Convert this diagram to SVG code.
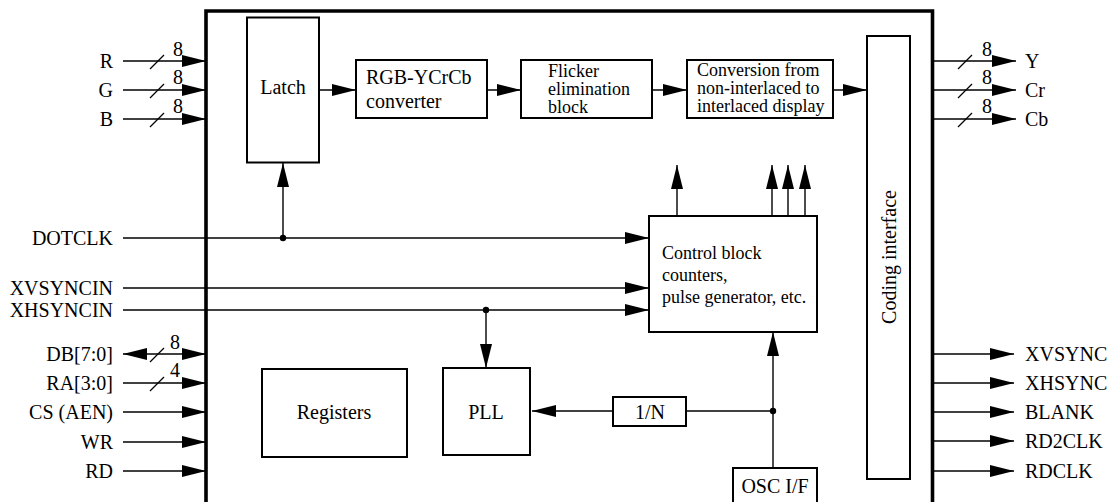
<svg xmlns="http://www.w3.org/2000/svg" width="1120" height="502" viewBox="0 0 1120 502" font-family="'Liberation Serif', 'DejaVu Serif', serif">
<style>
text{font-family:'Liberation Serif','DejaVu Serif',serif;fill:#000}
.t20{font-size:20px}
.t18{font-size:18px}
.r{text-anchor:end}
.m{text-anchor:middle}
.box{fill:#fff;stroke:#000;stroke-width:2}
.w{fill:none;stroke:#000;stroke-width:1.4}
.a{marker-end:url(#ah)}
.s{fill:none;stroke:#000;stroke-width:1.2}
</style>
<defs>
<marker id="ah" markerUnits="userSpaceOnUse" markerWidth="24" markerHeight="12" refX="24" refY="6" orient="auto" overflow="visible">
<path d="M0,0 L24,6 L0,12 z" fill="#000"/>
</marker>
<marker id="ahs" markerUnits="userSpaceOnUse" markerWidth="24" markerHeight="12" refX="24" refY="6" orient="auto-start-reverse" overflow="visible">
<path d="M0,0 L24,6 L0,12 z" fill="#000"/>
</marker>
</defs>
<rect width="1120" height="502" fill="#fff"/>
<g id="chip">
<path d="M206,506 V11 H932.5 V506" fill="none" stroke="#000" stroke-width="3.6"/>
</g>
<g id="connectors">
<line class="w a" x1="123" y1="61" x2="206" y2="61"/>
<line class="w a" x1="123" y1="90" x2="206" y2="90"/>
<line class="w a" x1="123" y1="119" x2="206" y2="119"/>
<line class="s" x1="150" y1="69" x2="164" y2="55"/>
<line class="s" x1="150" y1="98" x2="164" y2="84"/>
<line class="s" x1="150" y1="127" x2="164" y2="113"/>
<text class="t20" x="173" y="56">8</text>
<text class="t20" x="173" y="84">8</text>
<text class="t20" x="173" y="113">8</text>
<line class="w a" x1="320" y1="90" x2="356" y2="90"/>
<line class="w a" x1="488" y1="90" x2="521" y2="90"/>
<line class="w a" x1="653" y1="90" x2="687" y2="90"/>
<line class="w a" x1="834" y1="90" x2="867" y2="90"/>
<line class="w a" x1="932" y1="61" x2="1016" y2="61"/>
<line class="w a" x1="932" y1="90" x2="1016" y2="90"/>
<line class="w a" x1="932" y1="119" x2="1016" y2="119"/>
<line class="s" x1="958" y1="69" x2="972" y2="55"/>
<line class="s" x1="958" y1="98" x2="972" y2="84"/>
<line class="s" x1="958" y1="127" x2="972" y2="113"/>
<text class="t20" x="982" y="56">8</text>
<text class="t20" x="982" y="84">8</text>
<text class="t20" x="982" y="113">8</text>
<line class="w a" x1="123" y1="238" x2="649" y2="238"/>
<line class="w a" x1="283" y1="238" x2="283" y2="163"/>
<circle cx="283" cy="238" r="3.2" fill="#000"/>
<line class="w a" x1="123" y1="288" x2="649" y2="288"/>
<line class="w a" x1="123" y1="310" x2="649" y2="310"/>
<line class="w a" x1="486" y1="310" x2="486" y2="368"/>
<circle cx="486" cy="310" r="3.2" fill="#000"/>
<line class="w a" x1="677" y1="216" x2="677" y2="165"/>
<line class="w a" x1="772" y1="216" x2="772" y2="165"/>
<line class="w a" x1="788" y1="216" x2="788" y2="165"/>
<line class="w a" x1="805" y1="216" x2="805" y2="165"/>
<line class="w a" x1="773" y1="468" x2="773" y2="332"/>
<line class="w" x1="773" y1="411" x2="686" y2="411"/>
<circle cx="773" cy="411" r="3.2" fill="#000"/>
<line class="w a" x1="613" y1="411" x2="532" y2="411"/>
<line class="w a" x1="123" y1="354" x2="206" y2="354" marker-start="url(#ahs)"/>
<line class="w a" x1="123" y1="383" x2="206" y2="383"/>
<line class="w a" x1="123" y1="412" x2="206" y2="412"/>
<line class="w a" x1="123" y1="442" x2="206" y2="442"/>
<line class="w a" x1="123" y1="471" x2="206" y2="471"/>
<line class="s" x1="150" y1="362" x2="164" y2="348"/>
<line class="s" x1="150" y1="391" x2="164" y2="377"/>
<text class="t20" x="170" y="349">8</text>
<text class="t20" x="170" y="377">4</text>
<line class="w a" x1="932" y1="354" x2="1014" y2="354"/>
<line class="w a" x1="932" y1="383" x2="1014" y2="383"/>
<line class="w a" x1="932" y1="412" x2="1014" y2="412"/>
<line class="w a" x1="932" y1="441" x2="1014" y2="441"/>
<line class="w a" x1="932" y1="471" x2="1014" y2="471"/>
</g>
<g id="labels">
<text class="t20 r" x="113" y="68">R</text>
<text class="t20 r" x="113" y="97">G</text>
<text class="t20 r" x="113" y="126">B</text>
<text class="t20 r" x="113" y="245">DOTCLK</text>
<text class="t20 r" x="113" y="295">XVSYNCIN</text>
<text class="t20 r" x="113" y="317">XHSYNCIN</text>
<text class="t20 r" x="113" y="361">DB[7:0]</text>
<text class="t20 r" x="113" y="390">RA[3:0]</text>
<text class="t20 r" x="113" y="419">CS (AEN)</text>
<text class="t20 r" x="113" y="449">WR</text>
<text class="t20 r" x="113" y="478">RD</text>
<text class="t20" x="1025" y="68">Y</text>
<text class="t20" x="1025" y="97">Cr</text>
<text class="t20" x="1025" y="126">Cb</text>
<text class="t20" x="1025" y="361">XVSYNC</text>
<text class="t20" x="1025" y="390">XHSYNC</text>
<text class="t20" x="1025" y="419">BLANK</text>
<text class="t20" x="1025" y="448">RD2CLK</text>
<text class="t20" x="1025" y="478">RDCLK</text>
</g>
<g id="latch">
<rect class="box" x="247" y="17.5" width="72" height="145"/>
<text class="t20 m" x="283" y="94">Latch</text>
</g>
<g id="rgb2ycrcb">
<rect class="box" x="356" y="60" width="131" height="58"/>
<text class="t20" x="366" y="84">RGB-YCrCb</text>
<text class="t20" x="366" y="108">converter</text>
</g>
<g id="flicker">
<rect class="box" x="521" y="60" width="131" height="58"/>
<text class="t18" x="548" y="77">Flicker</text>
<text class="t18" x="548" y="95">elimination</text>
<text class="t18" x="548" y="113">block</text>
</g>
<g id="conversion">
<rect class="box" x="687" y="60" width="146" height="58"/>
<text class="t18" x="697" y="76">Conversion from</text>
<text class="t18" x="697" y="94">non-interlaced to</text>
<text class="t18" x="697" y="112">interlaced display</text>
</g>
<g id="coding">
<rect class="box" x="867" y="36" width="43" height="443"/>
<text class="t20 m" transform="translate(896,257) rotate(-90)">Coding interface</text>
</g>
<g id="control">
<rect class="box" x="649" y="216" width="168" height="116"/>
<text class="t18" x="662" y="259">Control block</text>
<text class="t18" x="662" y="281">counters,</text>
<text class="t18" x="662" y="303">pulse generator, etc.</text>
</g>
<g id="registers">
<rect class="box" x="262" y="369" width="145" height="88"/>
<text class="t20 m" x="334" y="419">Registers</text>
</g>
<g id="pll">
<rect class="box" x="443" y="368" width="87" height="87"/>
<text class="t20 m" x="486" y="419">PLL</text>
</g>
<g id="divn">
<rect class="box" x="613" y="397" width="73" height="29"/>
<text class="t20 m" x="650" y="419">1/N</text>
</g>
<g id="osc">
<rect class="box" x="733" y="468" width="84" height="45"/>
<text class="t20 m" x="775" y="493">OSC I/F</text>
</g>
</svg>
